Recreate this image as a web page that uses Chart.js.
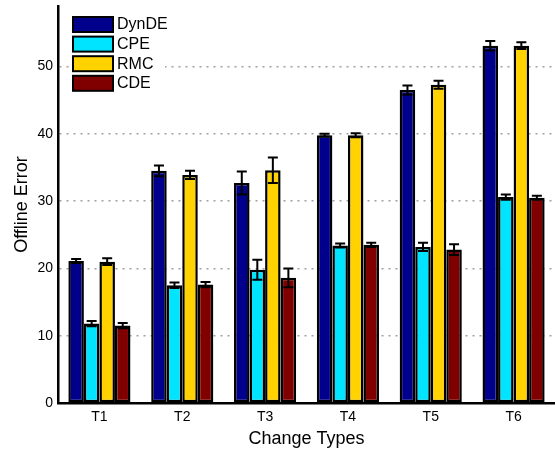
<!DOCTYPE html>
<html>
<head>
<meta charset="utf-8">
<script src="https://cdn.jsdelivr.net/npm/chart.js@4"></script>
<style>
    body { margin: 0; background: #fff; }
    #wrap { width: 555px; height: 450px; }
</style>
</head>
<body>
<div id="wrap"><canvas id="myChart" width="555" height="450"></canvas></div>
<script>
const categories = ['T1', 'T2', 'T3', 'T4', 'T5', 'T6'];
const seriesNames = ['DynDE', 'CPE', 'RMC', 'CDE'];
const dynde = [21.1, 34.5, 32.7, 39.8, 46.5, 53.1];
const cpe = [11.8, 17.5, 19.8, 23.4, 23.2, 30.6];
const rmc = [21.0, 33.9, 34.6, 39.8, 47.3, 53.1];
const cde = [11.5, 17.6, 18.6, 23.5, 22.8, 30.5];
const dyndeErr = [0.3, 0.8, 1.7, 0.2, 0.7, 0.7];
const cpeErr = [0.4, 0.4, 1.5, 0.3, 0.6, 0.4];
const rmcErr = [0.5, 0.6, 1.9, 0.3, 0.6, 0.5];
const cdeErr = [0.4, 0.4, 1.4, 0.3, 0.8, 0.3];
const yTicks = [0, 10, 20, 30, 40, 50];

const colors = ['#00008c', '#00e4ff', '#ffd200', '#800000'];
const values = [dynde, cpe, rmc, cde];
const errors = [dyndeErr, cpeErr, rmcErr, cdeErr];

const fontFamily = '"Liberation Sans", Arial, sans-serif';

// draws the error bars from each dataset's err array
const errorBars = {
    id: 'errorBars',
    afterDatasetsDraw(chart) {
        const ctx = chart.ctx;
        const yScale = chart.scales.y;
        ctx.save();
        ctx.strokeStyle = '#000';
        ctx.lineWidth = 2;
        chart.data.datasets.forEach((ds, i) => {
            const meta = chart.getDatasetMeta(i);
            meta.data.forEach((bar, j) => {
                const v = ds.data[j];
                const e = ds.err[j];
                const x = bar.x;
                const top = yScale.getPixelForValue(v + e);
                const bot = yScale.getPixelForValue(v - e);
                ctx.beginPath();
                ctx.moveTo(x, top);
                ctx.lineTo(x, bot);
                ctx.moveTo(x - 5, top);
                ctx.lineTo(x + 5, top);
                ctx.moveTo(x - 5, bot);
                ctx.lineTo(x + 5, bot);
                ctx.stroke();
            });
        });
        ctx.restore();
    }
};

// legend inside the plot, top left
const innerLegend = {
    id: 'innerLegend',
    afterDraw(chart) {
        const ctx = chart.ctx;
        const left = chart.chartArea.left + 15;
        const top = 17;
        ctx.save();
        ctx.fillStyle = '#fff';
        ctx.fillRect(left - 2, top - 3, 94, 82);
        chart.data.datasets.forEach((ds, i) => {
            const y = top + i * 19.6;
            ctx.fillStyle = ds.backgroundColor;
            ctx.fillRect(left, y, 40, 15);
            ctx.strokeStyle = '#000';
            ctx.lineWidth = 2;
            ctx.strokeRect(left, y, 40, 15);
            ctx.fillStyle = '#000';
            ctx.font = '16px ' + fontFamily;
            ctx.textBaseline = 'middle';
            ctx.fillText(ds.label, left + 44, y + 8);
        });
        ctx.restore();
    }
};

const ctx = document.getElementById('myChart').getContext('2d');
const myChart = new Chart(ctx, {
    type: 'bar',
    data: {
        labels: categories,
        datasets: seriesNames.map((name, i) => ({
            label: name,
            data: values[i],
            err: errors[i],
            backgroundColor: colors[i],
            borderColor: '#000',
            borderWidth: 2.5,
            borderSkipped: false,
            categoryPercentage: 0.75,
            barPercentage: 1.0
        }))
    },
    options: {
        responsive: false,
        animation: false,
        layout: {
            padding: { top: 6, right: 0, left: 0, bottom: 0 }
        },
        plugins: {
            legend: { display: false },
            tooltip: { enabled: false }
        },
        scales: {
            x: {
                grid: { display: false, drawTicks: false },
                border: { color: '#000', width: 2.5 },
                ticks: {
                    color: '#000',
                    padding: 6,
                    font: { family: fontFamily, size: 14 }
                },
                title: {
                    display: true,
                    text: 'Change Types',
                    color: '#000',
                    padding: { top: 0, bottom: 0 },
                    font: { family: fontFamily, size: 18 }
                },
                afterFit(scale) { scale.height = 47; }
            },
            y: {
                min: 0,
                max: 59,
                afterBuildTicks(scale) {
                    scale.ticks = yTicks.map(v => ({ value: v }));
                },
                grid: {
                    drawTicks: false,
                    color: c => c.tick && c.tick.value === 0 ? 'rgba(0,0,0,0)' : '#a0a0a0',
                    lineWidth: 1.5
                },
                border: { color: '#000', width: 2.5, dash: [2, 5] },
                ticks: {
                    color: '#000',
                    padding: 5,
                    font: { family: fontFamily, size: 14 }
                },
                title: {
                    display: true,
                    text: 'Offline Error',
                    color: '#000',
                    padding: { top: 11, bottom: 0 },
                    font: { family: fontFamily, size: 18 }
                },
                afterFit(scale) {
                    scale.width = 58;
                    scale.paddingTop = 0;
                    scale.paddingBottom = 0;
                }
            }
        }
    },
    plugins: [errorBars, innerLegend]
});
</script>
</body>
</html>
